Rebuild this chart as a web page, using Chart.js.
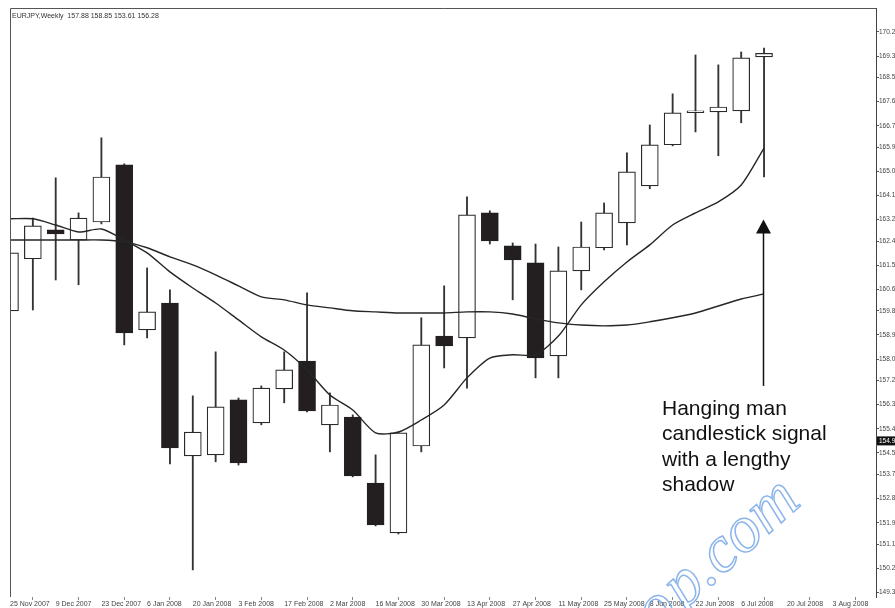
<!DOCTYPE html>
<html><head><meta charset="utf-8">
<script src="https://cdn.jsdelivr.net/npm/chart.js@4.4.1/dist/chart.umd.min.js"></script>
<style>html,body{margin:0;padding:0;background:#fff;}#wrap{width:895px;height:608px;position:relative;}</style>
</head><body><div id="wrap"><canvas id="c" width="895" height="608"></canvas></div>
<script>
// ---- data (weekly EURJPY candles, index 0 = week of 25 Nov 2007) ----
const weeks = ['25 Nov 2007','2 Dec 2007','9 Dec 2007','16 Dec 2007','23 Dec 2007','30 Dec 2007','6 Jan 2008','13 Jan 2008','20 Jan 2008','27 Jan 2008','3 Feb 2008','10 Feb 2008','17 Feb 2008','24 Feb 2008','2 Mar 2008','9 Mar 2008','16 Mar 2008','23 Mar 2008','30 Mar 2008','6 Apr 2008','13 Apr 2008','20 Apr 2008','27 Apr 2008','4 May 2008','11 May 2008','18 May 2008','25 May 2008','1 Jun 2008','8 Jun 2008','15 Jun 2008','22 Jun 2008','29 Jun 2008','6 Jul 2008','13 Jul 2008','20 Jul 2008','27 Jul 2008','3 Aug 2008','10 Aug 2008'];
const opens  = [159.80,161.74,162.82,162.44,163.11,165.24,159.09,160.09,154.39,154.43,156.48,155.62,156.89,157.93,155.55,155.84,153.38,151.52,154.76,158.86,158.79,163.45,162.22,161.59,158.12,161.29,162.15,163.08,164.46,165.99,167.19,167.22,167.25,169.27];
const highs  = [162.07,163.26,164.76,163.45,166.25,165.28,161.40,160.58,156.63,158.27,156.55,157.00,158.27,160.47,156.74,155.92,154.43,155.28,159.54,160.73,164.05,163.53,162.33,162.29,162.18,163.11,163.82,165.69,166.73,167.89,169.34,168.97,169.45,169.60];
const lows   = [159.76,159.83,160.95,160.77,163.04,158.53,158.79,154.09,150.14,154.17,154.05,155.55,156.37,156.03,154.54,153.61,151.78,151.48,154.54,157.67,156.92,162.29,160.21,157.30,157.30,160.58,162.07,162.26,164.35,165.95,166.47,165.58,166.81,164.79];
const closes = [161.96,162.97,162.67,163.26,164.79,158.98,159.76,154.69,155.28,156.22,154.13,156.92,157.60,156.07,156.29,153.64,151.82,155.25,158.53,158.49,163.38,162.41,161.70,158.04,161.29,162.18,163.45,164.98,165.99,167.18,167.26,167.40,169.23,169.40];
const maFast = [163.23,163.23,163.00,162.74,162.85,162.44,161.96,161.25,160.65,160.09,159.46,158.83,158.34,157.60,156.66,156.10,155.25,155.28,155.73,156.29,157.30,158.04,158.16,158.16,158.86,160.02,160.88,161.62,162.26,163.00,163.45,163.86,164.49,165.87];
const maSlow = [162.44,162.44,162.44,162.44,162.44,162.37,162.15,161.81,161.51,161.14,160.73,160.32,160.21,160.02,159.91,159.80,159.76,159.72,159.72,159.72,159.76,159.76,159.68,159.50,159.35,159.27,159.24,159.27,159.39,159.54,159.72,159.98,160.24,160.43];
const priceTicks = [170.2,169.3,168.5,167.6,166.7,165.9,165.0,164.1,163.2,162.4,161.5,160.6,159.8,158.9,158.0,157.2,156.3,155.4,154.5,153.7,152.8,151.9,151.1,150.2,149.3];
const dateTickIdx = [0,2,4,6,8,10,12,14,16,18,20,22,24,26,28,30,32,34,36];
const titleText = 'EURJPY,Weekly  157.88 158.85 153.61 156.28';
const currentPrice = 154.95;
const noteLines = ['Hanging man','candlestick signal','with a lengthy','shadow'];
const arrowPrices = [157.0, 163.2];   // arrow base, arrow tip
const watermark = 'p.com';

// ---- build ----
const idx = opens.map((_, i) => i);
const bodies = idx.map(i => ({x: i, y: [opens[i], closes[i]]}));
const wicks  = idx.map(i => ({x: i, y: [lows[i], highs[i]]}));
const bodyFill = idx.map(i => closes[i] >= opens[i] ? '#ffffff' : '#231f20');
const bodyLine = idx.map(i => closes[i] >= opens[i] ? '#2a2a2a' : '#231f20');

const decor = {
  id: 'decor',
  afterDraw(chart) {
    const {ctx, chartArea: a, scales: {x, y}} = chart;
    ctx.save();
    // frame
    ctx.strokeStyle = '#555'; ctx.lineWidth = 1;
    ctx.beginPath();
    ctx.moveTo(a.left + 0.5, a.bottom); ctx.lineTo(a.left + 0.5, a.top + 0.5); ctx.lineTo(a.right, a.top + 0.5);
    ctx.stroke();
    // title
    ctx.fillStyle = '#333'; ctx.font = '7px "Liberation Sans", Arial, sans-serif';
    ctx.textBaseline = 'middle'; ctx.textAlign = 'left';
    ctx.fillText(titleText, a.left + 2, a.top + 8);
    // current price marker
    const py = y.getPixelForValue(currentPrice);
    ctx.fillStyle = '#111';
    ctx.fillRect(a.right + 1, py - 4.5, 18, 9);
    ctx.fillStyle = '#fff';
    ctx.font = '6.5px "Liberation Sans", Arial, sans-serif';
    ctx.fillText(currentPrice.toFixed(1), a.right + 3, py + 0.5);
    // watermark
    ctx.save();
    ctx.translate(684, 610);
    ctx.rotate(-0.73);
    ctx.font = 'italic 66px "Liberation Serif", serif';
    ctx.strokeStyle = 'rgba(90,150,225,0.7)'; ctx.lineWidth = 1.5;
    ctx.textBaseline = 'alphabetic';
    ctx.strokeText(watermark, 0, 0);
    ctx.textAlign = 'right';
    ctx.strokeText('o', -4, 0);
    ctx.restore();
    // annotation text
    ctx.fillStyle = '#111';
    ctx.font = '21px "Liberation Sans", Arial, sans-serif';
    ctx.textBaseline = 'alphabetic'; ctx.textAlign = 'left';
    noteLines.forEach((t, k) => ctx.fillText(t, 662, 415 + k * 25.4));
    // arrow
    const ax = Math.round(x.getPixelForValue(opens.length - 1)) - 0.5;
    const yb = y.getPixelForValue(arrowPrices[0]);
    const yt = y.getPixelForValue(arrowPrices[1]);
    ctx.strokeStyle = '#111'; ctx.lineWidth = 1.5;
    ctx.beginPath(); ctx.moveTo(ax, yb); ctx.lineTo(ax, yt + 12); ctx.stroke();
    ctx.fillStyle = '#111';
    ctx.beginPath(); ctx.moveTo(ax, yt); ctx.lineTo(ax - 7.5, yt + 14); ctx.lineTo(ax + 7.5, yt + 14); ctx.closePath(); ctx.fill();
    ctx.restore();
  }
};

new Chart(document.getElementById('c'), {
  type: 'bar',
  data: {
    datasets: [
      {type: 'line', data: idx.map(i => ({x: i, y: maFast[i]})), borderColor: '#262626', borderWidth: 1.4, pointRadius: 0, tension: 0.25, order: 0, clip: 0},
      {type: 'line', data: idx.map(i => ({x: i, y: maSlow[i]})), borderColor: '#262626', borderWidth: 1.4, pointRadius: 0, tension: 0.25, order: 0, clip: 0},
      {type: 'bar', data: bodies, backgroundColor: bodyFill, borderColor: bodyLine, borderWidth: 1.2, borderSkipped: false, barThickness: 17, grouped: false, order: 1, clip: 0},
      {type: 'bar', data: wicks, backgroundColor: '#333', borderWidth: 0, barThickness: 1.2, grouped: false, order: 2, clip: 0}
    ]
  },
  options: {
    responsive: false, animation: false, devicePixelRatio: 1,
    layout: {padding: {left: 10, top: 8, right: 0, bottom: 0}},
    plugins: {legend: {display: false}, tooltip: {enabled: false}},
    events: [],
    scales: {
      x: {
        type: 'linear', min: 0, max: 37.9, offset: false,
        afterBuildTicks: s => { s.ticks = dateTickIdx.map(v => ({value: v})); },
        afterFit: s => { s.height = 11; },
        grid: {drawOnChartArea: false, drawTicks: true, tickLength: 3, color: '#888'},
        border: {display: false},
        ticks: {align: 'start', autoSkip: false, maxRotation: 0, padding: 0, color: '#444',
          font: {size: 7, family: '"Liberation Sans", Arial, sans-serif'},
          callback: v => weeks[v] || ''}
      },
      y: {
        position: 'right', min: 149.13, max: 171.09,
        afterBuildTicks: s => { s.ticks = priceTicks.map(v => ({value: v})); },
        afterFit: s => { s.width = 19; },
        grid: {drawOnChartArea: false, drawTicks: true, tickLength: 3, color: '#555'},
        border: {display: true, color: '#444', width: 1},
        ticks: {padding: 0, color: '#444', font: {size: 6.5, family: '"Liberation Sans", Arial, sans-serif'},
          callback: v => Number(v).toFixed(1)}
      }
    }
  },
  plugins: [decor]
});
</script></body></html>
